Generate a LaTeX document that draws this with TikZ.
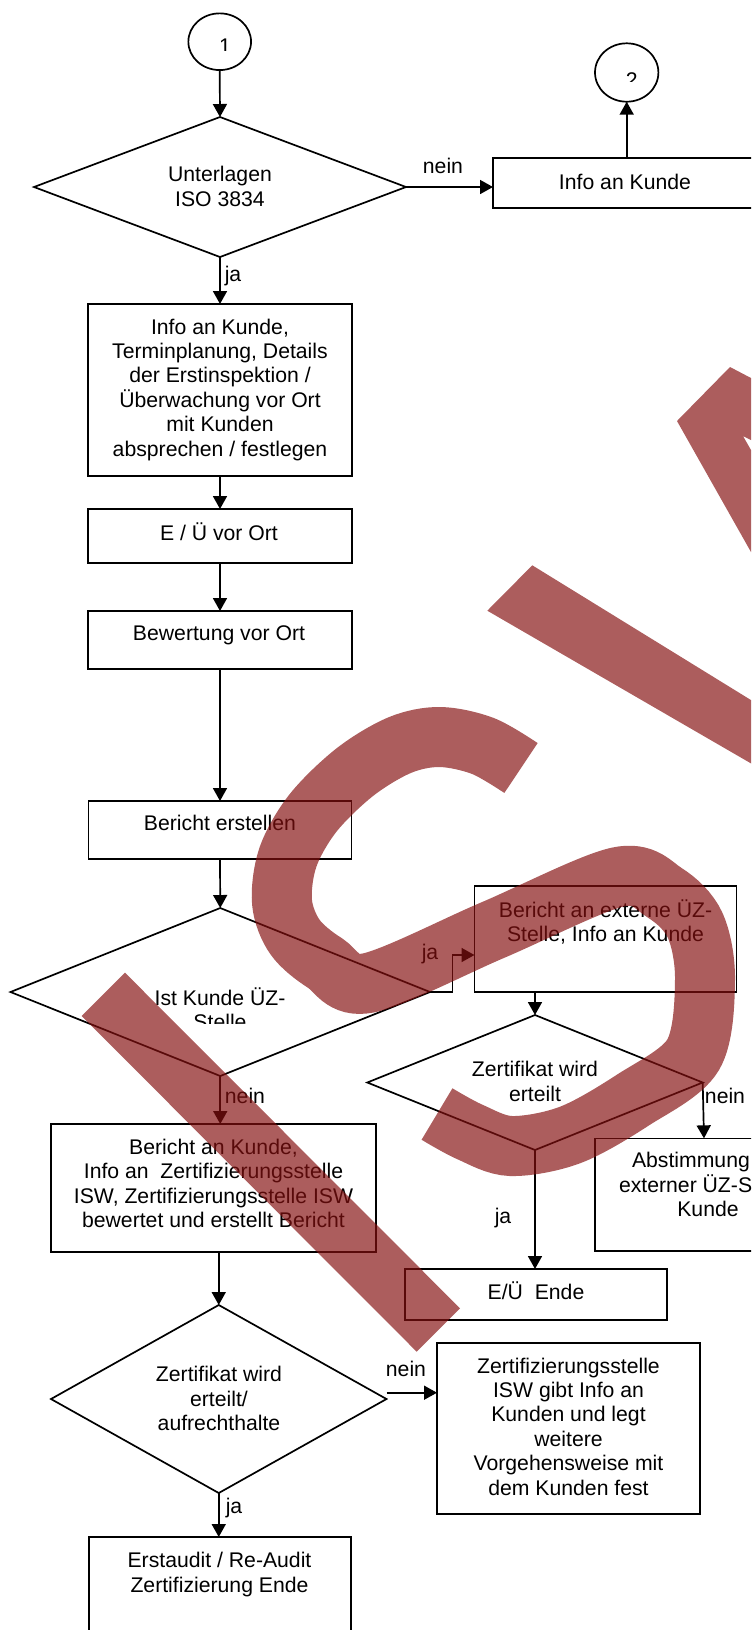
\documentclass[tikz,border=0pt]{standalone}
\usepackage{fontspec}
\setmainfont{Liberation Sans}
\usetikzlibrary{shapes.geometric,arrows.meta,calc}
\definecolor{wm}{RGB}{132,16,16}
\begin{document}
\begin{tikzpicture}[x=0.5pt,y=-0.5pt,
  lw/.style={line width=0.85pt},
  box/.style={draw, lw, rectangle, inner sep=0pt, outer sep=0pt},
  dia/.style={draw, lw, diamond, inner sep=0pt, outer sep=0pt},
  oval/.style={draw, lw, ellipse, inner sep=0pt, outer sep=0pt},
  txt/.style={align=center, inner sep=0pt, font=\fontsize{10.6pt}{12.2pt}\selectfont,
    execute at begin node=\strut, execute at end node=\strut},
  digit/.style={inner sep=0pt, anchor=base, font=\fontsize{10.6pt}{12.2pt}\selectfont},
  arr/.style={lw, -{Triangle[length=6.5pt,width=7pt]}},
  ln/.style={lw},
  wmfill/.style={fill=wm, fill opacity=0.68, draw=none},
  wmstroke/.style={draw=wm, draw opacity=0.68, line width=30pt},
]
\useasboundingbox (0,0) rectangle (751,1630);
\clip (0,0) rectangle (751,1630);

% ---- shapes ----
\node[oval, minimum width=31.35pt, minimum height=28.35pt] (c1) at (219.7,41.7) {};
\node[oval, minimum width=31.7pt, minimum height=29.2pt] (c2) at (626.7,72.5) {};
\node[dia, minimum width=186pt, minimum height=70pt] (d1) at (220,187) {};
\node[box, minimum width=132pt, minimum height=25pt] (info) at (625,183) {};
\node[box, minimum width=132pt, minimum height=86pt] (b1) at (220,390) {};
\node[box, minimum width=132pt, minimum height=27pt] (eu) at (220,536) {};
\node[box, minimum width=132pt, minimum height=29pt] (bew) at (220,640) {};
\node[box, minimum width=131.5pt, minimum height=29pt] (ber) at (220,830) {};
\node[dia, minimum width=209.75pt, minimum height=84pt] (d2) at (220.25,992) {};
\node[box, minimum width=131pt, minimum height=53pt] (ext) at (605.5,939) {};
\node[dia, minimum width=167.7pt, minimum height=67.5pt] (d3) at (535,1082.5) {};
\node[box, minimum width=132pt, minimum height=56.35pt] (abst) at (727,1194.7) {};
\node[box, minimum width=162.5pt, minimum height=64pt] (bak) at (213.5,1188) {};
\node[box, minimum width=131pt, minimum height=25.5pt] (eue) at (536,1294.5) {};
\node[dia, minimum width=167.75pt, minimum height=94pt] (d4) at (218.75,1399) {};
\node[box, minimum width=131.5pt, minimum height=85.5pt] (zert) at (568.5,1428.5) {};
\node[box, minimum width=131pt, minimum height=83pt] (erst) at (220,1620) {};

% ---- texts ----
\begin{scope}
  \clip (150,0) rectangle (300,50);
  \node[digit] (n1) at (225,53) {1};
\end{scope}
\begin{scope}
  \clip (560,0) rectangle (700,81.7);
  \node[digit] (n2) at (631.7,87) {2};
\end{scope}
\node[txt] (t_d1) at (220,190) {Unterlagen\\ISO 3834};
\node[txt] (t_info) at (625,185) {Info an Kunde};
\node[txt] (t_b1) at (220,391) {Info an Kunde,\\Terminplanung, Details\\der Erstinspektion /\\Überwachung vor Ort\\mit Kunden\\absprechen / festlegen};
\node[txt] (t_eu) at (219,535) {E / Ü vor Ort};
\node[txt] (t_bew) at (219,636) {Bewertung vor Ort};
\node[txt] (t_ber) at (220,826) {Bericht erstellen};
\begin{scope}
  \clip (0,900) rectangle (440,1023);
  \node[txt] (t_d2) at (220,1012) {Ist Kunde ÜZ-\\Stelle};
\end{scope}
\node[txt] (t_ext) at (605.5,924) {Bericht an externe ÜZ-\\Stelle, Info an Kunde};
\node[txt] (t_d3) at (535,1085) {Zertifikat wird\\erteilt};
\node[txt] (t_abst) at (708,1188) {Abstimmung mit\\externer ÜZ-Stelle,\\Kunde};
\node[txt] (t_bak) at (213.5,1187) {Bericht an Kunde,\\Info an\ \ Zertifizierungsstelle\\ISW, Zertifizierungsstelle ISW\\bewertet und erstellt Bericht};
\node[txt] (t_eue) at (536,1294) {E/Ü\ \ Ende};
\node[txt] (t_d4) at (219,1402) {Zertifikat wird\\erteilt/\\aufrechthalte};
\node[txt] (t_zert) at (568.5,1430) {Zertifizierungsstelle\\ISW gibt Info an\\Kunden und legt\\weitere\\Vorgehensweise mit\\dem Kunden fest};
\node[txt] (t_erst) at (219.5,1576) {Erstaudit / Re-Audit\\Zertifizierung Ende};

% ---- labels ----
\node[txt] (l_n1) at (443,169) {nein};
\node[txt] (l_j1) at (233,277) {ja};
\node[txt] (l_j2) at (430,955) {ja};
\node[txt] (l_n2) at (245,1099) {nein};
\node[txt] (l_n3) at (725,1099) {nein};
\node[txt] (l_j3) at (503,1219) {ja};
\node[txt] (l_n4) at (406,1372) {nein};
\node[txt] (l_j4) at (234,1509) {ja};

% ---- connectors ----
\draw[arr] (c1.south) -- (d1.north);
\draw[arr] (d1.east) -- (d1.east -| info.west);
\draw[arr] (c2.south |- info.north) -- (c2.south);
\draw[arr] (d1.south) -- (b1.north);
\draw[arr] (b1.south) -- (eu.north);
\draw[arr] (eu.south) -- (bew.north);
\draw[arr] (bew.south) -- (ber.north);
\draw[arr] (ber.south) -- (d2.north);
\coordinate (jaE) at (452.6,955);
\draw[arr] (d2.east) -| (jaE) -- (jaE -| ext.west);
\draw[arr] (d3.north |- ext.south) -- (d3.north);
\draw[arr] (d3.east) -- ([xshift=0.65pt]d3.east |- abst.north);
\draw[arr] (d3.south) -- (d3.south |- eue.north);
\draw[arr] (d2.south) -- (d2.south |- bak.north);
\draw[arr] (d4.north |- bak.south) -- (d4.north);
\draw[arr] ([yshift=3.15pt]d4.east) -- ([yshift=3.15pt]d4.east -| zert.west);
\draw[arr] (d4.south) -- (d4.south |- erst.north);

% ---- watermark ----
\fill[wmfill] (81.7,1016) -- (125,972.7) -- (460,1308.3) -- (416.7,1351.7) -- cycle;
\fill[wmfill] (532.3,565.3) -- (760,705.6) -- (760,768.6) -- (487.3,610.7) -- cycle;
\fill[wmfill] (730,367) -- (677,421) -- (751,552) -- (751,450) -- (743,436) -- (751,440) -- (751,378) -- cycle;
\draw[wmstroke] plot[smooth, tension=0.55] coordinates {
  (521,768) (483,746) (440,737) (400,745) (355,772) (313,813) (288,857)
  (282,902) (295,937) (325,963) (368,983) (493,930) (618,877) (665,893)
  (695,925) (705,980) (693,1055) (633,1100) (570,1135) (511,1146) (470,1132) (437,1114)};
\end{tikzpicture}
\end{document}
